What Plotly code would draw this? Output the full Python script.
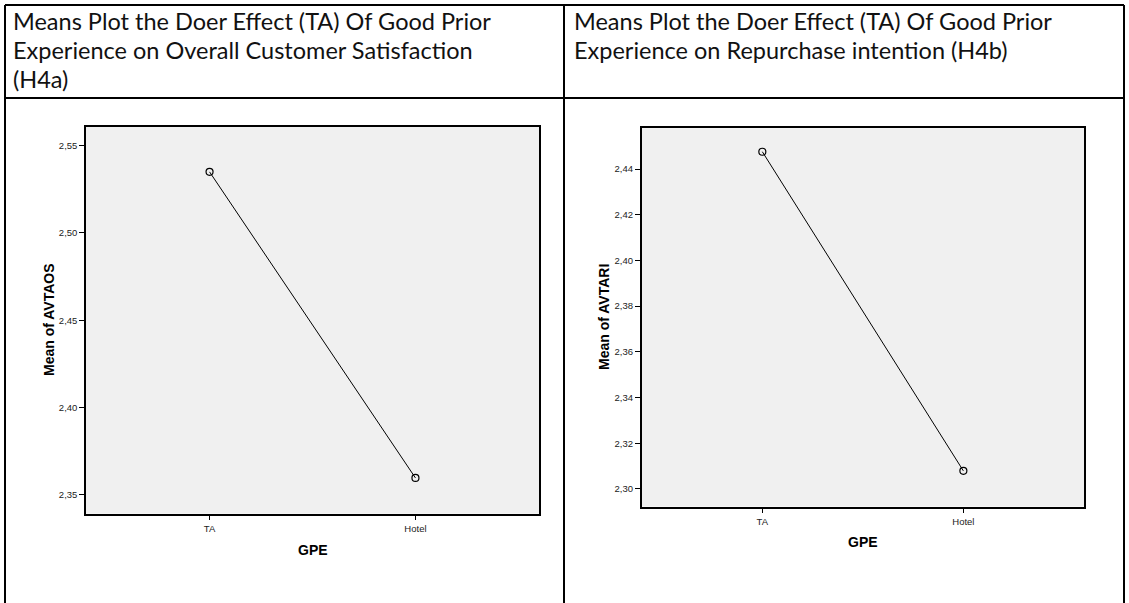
import plotly.graph_objects as go

W, H = 1129, 603

# ---- data ----
categories = ["TA", "Hotel"]
mean_avtaos = [2.535, 2.3596]
mean_avtari = [2.4476, 2.3079]
ticks_left = [2.35, 2.40, 2.45, 2.50, 2.55]
ticks_right = [2.30, 2.32, 2.34, 2.36, 2.38, 2.40, 2.42, 2.44]
title_left = ["Means Plot the Doer Effect (TA) Of Good Prior",
              "Experience on Overall Customer Satisfaction",
              "(H4a)"]
title_right = ["Means Plot the Doer Effect (TA) Of Good Prior",
               "Experience on Repurchase intention (H4b)"]
ytitle_left = "Mean of AVTAOS"
ytitle_right = "Mean of AVTARI"
xtitle = "GPE"


def px(x):
    return x / W


def py(y):
    return 1 - y / H


fig = go.Figure()

for vals, xa, ya in [(mean_avtaos, "x", "y"), (mean_avtari, "x2", "y2")]:
    fig.add_trace(go.Scatter(
        x=categories, y=vals, xaxis=xa, yaxis=ya, mode="lines+markers",
        line=dict(color="black", width=1),
        marker=dict(symbol="circle-open", size=7, color="black",
                    line=dict(width=1.2, color="black")),
        showlegend=False, hoverinfo="skip"))

tickfont = dict(family="Liberation Sans, Arial", size=9.5, color="#222")
common_x = dict(type="category", range=[-0.6, 1.6], showgrid=False,
                zeroline=False, showline=True, linecolor="black", linewidth=1.5,
                mirror=True, ticks="outside", ticklen=5, tickcolor="black",
                tickwidth=1.2, tickfont=tickfont)
common_y = dict(showgrid=False, zeroline=False, showline=True,
                linecolor="black", linewidth=1.5, mirror=True,
                ticks="outside", ticklen=5, tickcolor="black", tickwidth=1.2,
                tickformat=".2f", tickfont=tickfont)

fig.update_layout(
    width=W, height=H, margin=dict(l=0, r=0, t=0, b=0),
    paper_bgcolor="white", plot_bgcolor="#f0f0f0",
    separators=", ",
    xaxis=dict(domain=[px(86), px(539)], anchor="y", **common_x),
    yaxis=dict(domain=[py(513.7), py(126.5)], anchor="x",
               range=[2.3391, 2.561], tickvals=ticks_left, **common_y),
    xaxis2=dict(domain=[px(641.7), px(1084)], anchor="y2", **common_x),
    yaxis2=dict(domain=[py(506.5), py(128.2)], anchor="x2",
                range=[2.2923, 2.4579], tickvals=ticks_right, **common_y),
)

annotations = []
hfont = dict(family="Lato", size=23.5, color="#111")
for i, line in enumerate(title_left):
    annotations.append(dict(x=px(11), y=py(21 + 29 * i), xref="paper",
                            yref="paper", text=line, showarrow=False,
                            xanchor="left", yanchor="middle", font=hfont))
for i, line in enumerate(title_right):
    annotations.append(dict(x=px(572), y=py(21 + 29 * i), xref="paper",
                            yref="paper", text=line, showarrow=False,
                            xanchor="left", yanchor="middle", font=hfont))

bfont = dict(family="Liberation Sans, Arial", size=14, color="black")
annotations += [
    dict(x=px(49), y=py(320), xref="paper", yref="paper", text="<b>%s</b>" % ytitle_left,
         textangle=-90, showarrow=False, xanchor="center", yanchor="middle", font=bfont),
    dict(x=px(604), y=py(317), xref="paper", yref="paper", text="<b>%s</b>" % ytitle_right,
         textangle=-90, showarrow=False, xanchor="center", yanchor="middle", font=bfont),
    dict(x=px(312.5), y=py(550), xref="paper", yref="paper", text="<b>%s</b>" % xtitle,
         showarrow=False, xanchor="center", yanchor="middle",
         font=dict(family="Liberation Sans, Arial", size=14, color="black")),
    dict(x=px(863), y=py(542), xref="paper", yref="paper", text="<b>%s</b>" % xtitle,
         showarrow=False, xanchor="center", yanchor="middle",
         font=dict(family="Liberation Sans, Arial", size=14, color="black")),
]
fig.update_layout(annotations=annotations)

# table borders
line_style = dict(color="black", width=2)
shapes = []
for (x0, y0, x1, y1) in [(5, 5, 1124, 5), (5, 98, 1124, 98), (5, 5, 5, 603),
                         (564, 5, 564, 603), (1124, 5, 1124, 603)]:
    shapes.append(dict(type="line", xref="paper", yref="paper",
                       x0=px(x0), y0=py(y0), x1=px(x1), y1=py(y1),
                       line=line_style, layer="above"))
fig.update_layout(shapes=shapes)

fig.write_html("out.html")
